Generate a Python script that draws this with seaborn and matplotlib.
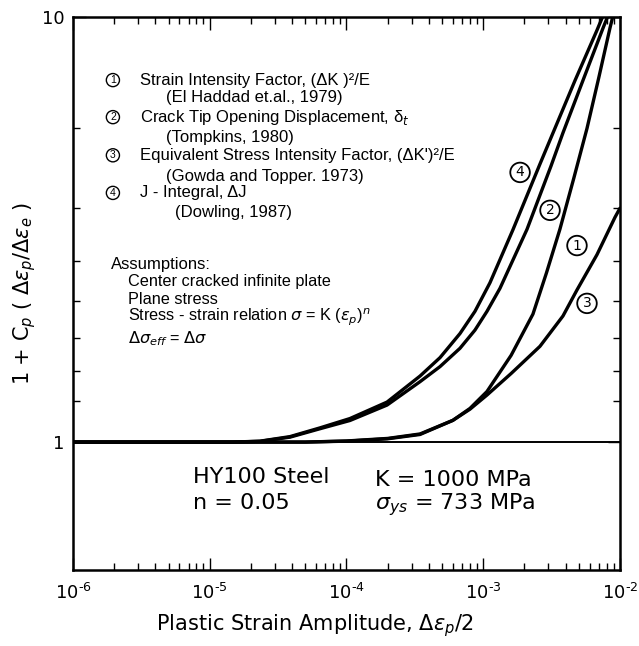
import matplotlib
matplotlib.use("Agg")
import matplotlib.pyplot as plt
import matplotlib.ticker as mticker
import numpy as np
import pandas as pd
import seaborn as sns

# Plastic strain amplitude (x) and 1 + Cp (y) for each crack-driving-force model
# (4) J-integral
strain_j = [1e-6, 1e-5, 1.48e-5, 2.33e-5, 3.86e-5, 6.4e-5, 1.06e-4, 1.98e-4, 3.45e-4,
            4.83e-4, 6.76e-4, 8.7e-4, 1.12e-3, 1.65e-3, 2.6e-3, 3.24e-3, 4.69e-3,
            6.79e-3, 7.45e-3]
ratio_j = [1.0, 1.0, 1.0, 1.005, 1.03, 1.08, 1.136, 1.242, 1.43,
           1.58, 1.80, 2.03, 2.37, 3.16, 4.51, 5.34, 7.09,
           9.31, 10.0]

# (2) crack tip opening displacement
strain_ctod = [1e-6, 1e-5, 1.48e-5, 2.33e-5, 3.86e-5, 6.4e-5, 1.06e-4, 1.98e-4, 3.45e-4,
               4.83e-4, 6.76e-4, 8.7e-4, 1.065e-3, 1.326e-3, 2.09e-3, 3.13e-3, 3.83e-3,
               5.36e-3, 7.51e-3, 8.1e-3]
ratio_ctod = [1.0, 1.0, 1.0, 1.004, 1.027, 1.075, 1.124, 1.222, 1.387,
              1.505, 1.662, 1.834, 2.03, 2.30, 3.166, 4.46, 5.34,
              7.09, 9.41, 10.0]

# (1) strain intensity factor
strain_sif = [1e-6, 5e-5, 1e-4, 2e-4, 3.45e-4, 6e-4, 8e-4, 1.065e-3, 1.6e-3, 2.31e-3,
              2.9e-3, 3.64e-3, 4.6e-3, 5.74e-3, 7e-3, 8.45e-3, 8.85e-3]
ratio_sif = [1.0, 1.0, 1.006, 1.02, 1.045, 1.125, 1.2, 1.315, 1.6, 2.0,
             2.5, 3.17, 4.18, 5.47, 7.2, 9.42, 10.0]

# (3) equivalent stress intensity factor
strain_eq = [1e-6, 5e-5, 1e-4, 2e-4, 3.45e-4, 6e-4, 8e-4, 1.065e-3, 1.6e-3, 2.6e-3,
             3.83e-3, 4.85e-3, 6.79e-3, 9.2e-3, 1e-2]
ratio_eq = [1.0, 1.0, 1.005, 1.018, 1.042, 1.125, 1.195, 1.29, 1.45, 1.68,
            1.98, 2.28, 2.76, 3.38, 3.55]

models = ["1", "2", "3", "4"]
label_x = [4.85e-3, 3.08e-3, 5.74e-3, 1.86e-3]
label_y = [2.90, 3.51, 2.12, 4.31]

x_ticks = [1e-6, 1e-5, 1e-4, 1e-3, 1e-2]
x_tick_labels = ["$10^{\u20106}$", "$10^{\u20105}$", "$10^{\u20104}$",
                 "$10^{\u20103}$", "$10^{\u20102}$"]
y_ticks = [1, 10]
y_tick_labels = ["1", "10"]
y_minor_ticks = [1.25, 1.47, 1.76, 2.15, 2.67, 3.55, 5.47]

df = pd.concat([
    pd.DataFrame({"strain": strain_sif, "ratio": ratio_sif, "model": "1"}),
    pd.DataFrame({"strain": strain_ctod, "ratio": ratio_ctod, "model": "2"}),
    pd.DataFrame({"strain": strain_eq, "ratio": ratio_eq, "model": "3"}),
    pd.DataFrame({"strain": strain_j, "ratio": ratio_j, "model": "4"}),
], ignore_index=True)

sns.set_style("ticks")
plt.rcParams["font.family"] = ["DejaVu Sans"]
plt.rcParams["mathtext.fontset"] = "dejavusans"
for key in ["text.color", "axes.labelcolor", "xtick.color", "ytick.color", "axes.edgecolor"]:
    plt.rcParams[key] = "black"

KEY_FONT = ["Liberation Sans", "DejaVu Sans"]

fig = plt.figure(figsize=(6.39, 6.46), dpi=100)
ax = fig.add_axes([0.1142, 0.1176, 0.856, 0.856])

ax.set_xscale("log")
ax.set_yscale("log")

ax.axhline(1.0, color="black", lw=1.4, zorder=1)
sns.lineplot(data=df, x="strain", y="ratio", units="model", estimator=None,
             sort=False, color="black", linewidth=2.4, legend=False, ax=ax)

ax.set_xlim(1e-6, 1e-2)
ax.set_ylim(0.5, 10)

ax.set_xticks(x_ticks)
ax.set_xticklabels(x_tick_labels)
ax.xaxis.set_minor_locator(mticker.LogLocator(base=10, subs=np.arange(2, 10)))
ax.xaxis.set_minor_formatter(mticker.NullFormatter())
ax.set_yticks(y_ticks)
ax.set_yticklabels(y_tick_labels)
ax.set_yticks(y_minor_ticks, minor=True)
ax.yaxis.set_minor_formatter(mticker.NullFormatter())

ax.tick_params(which="both", direction="in", top=True, right=True,
               width=1.0, color="black")
ax.tick_params(which="major", length=9, labelsize=13)
ax.tick_params(axis="x", which="major", pad=9)
ax.tick_params(axis="y", which="major", pad=6)
ax.tick_params(which="minor", length=5)
for s in ax.spines.values():
    s.set_linewidth(1.8)

ax.set_xlabel(r"Plastic Strain Amplitude, $\Delta\epsilon_p/2$", fontsize=15)
ax.xaxis.set_label_coords(0.442, -0.076)
ax.set_ylabel(r"1 + C$_p$ ( $\Delta\epsilon_p/\Delta\epsilon_e$ )", fontsize=15)
ax.yaxis.set_label_coords(-0.064, 0.5)

# circled curve numbers
for m, lx, ly in zip(models, label_x, label_y):
    ax.text(lx, ly, m, ha="center", va="center", fontsize=10,
            bbox=dict(boxstyle="circle,pad=0.2", fc="none", ec="black", lw=1.3))

# model key
titles = ["Strain Intensity Factor, (\u0394K )\u00b2/E",
          "Crack Tip Opening Displacement, \u03b4$_t$",
          "Equivalent Stress Intensity Factor, (\u0394K')\u00b2/E",
          "J - Integral, \u0394J"]
refs = ["(El Haddad et.al., 1979)", "(Tompkins, 1980)",
        "(Gowda and Topper. 1973)", "(Dowling, 1987)"]
ref_x = [0.170, 0.170, 0.170, 0.186]
key_y = [0.886, 0.855, 0.819, 0.783, 0.750, 0.711, 0.682, 0.646]
for i, (m, title, ref) in enumerate(zip(models, titles, refs)):
    ax.text(0.073, key_y[2 * i], m, transform=ax.transAxes, fontsize=7.5,
            family=KEY_FONT, ha="center", va="center",
            bbox=dict(boxstyle="circle,pad=0.15", fc="none", ec="black", lw=1.0))
    ax.text(0.122, key_y[2 * i], title, transform=ax.transAxes,
            fontsize=12, family=KEY_FONT, va="center", ha="left")
    ax.text(ref_x[i], key_y[2 * i + 1], ref, transform=ax.transAxes,
            fontsize=12, family=KEY_FONT, va="center", ha="left")

ax.text(0.0695, 0.552, "Assumptions:", transform=ax.transAxes, fontsize=12,
        family=KEY_FONT, va="center")
assumptions = ["Center cracked infinite plate", "Plane stress",
               r"Stress - strain relation $\sigma$ = K ($\epsilon_p$)$^n$",
               r"$\Delta\sigma_{eff}$ = $\Delta\sigma$"]
for yy, line in zip([0.521, 0.489, 0.457, 0.418], assumptions):
    ax.text(0.1005, yy, line, transform=ax.transAxes, fontsize=11.7,
            family=KEY_FONT, va="center")

# material data
ax.text(0.219, 0.168, "HY100 Steel", transform=ax.transAxes, fontsize=16, va="center")
ax.text(0.219, 0.121, "n = 0.05", transform=ax.transAxes, fontsize=16, va="center")
ax.text(0.552, 0.163, "K = 1000 MPa", transform=ax.transAxes, fontsize=16, va="center")
ax.text(0.552, 0.118, r"$\sigma_{ys}$ = 733 MPa", transform=ax.transAxes, fontsize=16, va="center")

fig.savefig("out.png", dpi=100)
